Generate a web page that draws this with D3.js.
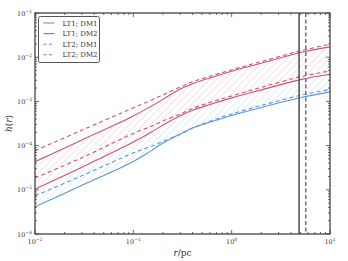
<!DOCTYPE html>
<html>
<head>
<meta charset="utf-8">
<script src="https://d3js.org/d3.v7.min.js"></script>
<style>
  body { margin: 0; background: #fff; }
  text { font-family: "DejaVu Serif", "Liberation Serif", serif; fill: #333; }
</style>
</head>
<body>
<div id="chart"></div>
<script>
var svgWidth = 348;
var svgHeight = 261;

var margin = { top: 13, right: 18, bottom: 27, left: 35 };
var width = svgWidth - margin.left - margin.right;
var height = svgHeight - margin.top - margin.bottom;

// radii (pc) where the curves were read
var radius = [0.01, 0.03, 0.1, 0.15, 0.2, 0.3, 0.4, 0.6, 1, 2, 5, 10];

// LT1 (solid) and LT2 (dashed), two DM2 bounds and one DM1 curve each
var lt1Dm2Upper = [4.33e-5, 1.34e-4, 4.68e-4, 7.69e-4, 1.11e-3, 1.90e-3, 2.52e-3, 3.40e-3, 4.81e-3, 7.31e-3, 1.28e-2, 1.71e-2];
var lt1Dm2Lower = [1.04e-5, 3.24e-5, 1.20e-4, 1.97e-4, 2.92e-4, 4.75e-4, 6.30e-4, 8.50e-4, 1.20e-3, 1.82e-3, 3.11e-3, 4.11e-3];
var lt1Dm1 = [4.11e-6, 1.26e-5, 4.38e-5, 7.50e-5, 1.14e-4, 1.84e-4, 2.50e-4, 3.38e-4, 4.81e-4, 7.31e-4, 1.21e-3, 1.64e-3];
var lt2Dm2Upper = [7.69e-5, 2.23e-4, 7.16e-4, 1.05e-3, 1.41e-3, 2.11e-3, 2.77e-3, 3.70e-3, 5.20e-3, 7.98e-3, 1.39e-2, 1.97e-2];
var lt2Dm2Lower = [1.85e-5, 5.33e-5, 1.89e-4, 2.70e-4, 3.61e-4, 5.20e-4, 6.93e-4, 9.48e-4, 1.33e-3, 2.08e-3, 3.61e-3, 4.89e-3];
var lt2Dm1 = [7.31e-6, 2.08e-5, 6.85e-5, 9.48e-5, 1.26e-4, 1.80e-4, 2.50e-4, 3.55e-4, 5.20e-4, 8.11e-4, 1.37e-3, 1.87e-3];

// vertical markers (pc)
var markerSolid = 4.85;
var markerDashed = 5.67;

var xTicks = [0.01, 0.1, 1, 10];
var xTickExp = ["\u22122", "\u22121", "0", "1"];
var yTicks = [1e-6, 1e-5, 1e-4, 1e-3, 1e-2, 1e-1];
var yTickExp = ["\u22126", "\u22125", "\u22124", "\u22123", "\u22122", "\u22121"];

var legendLabels = ["LT1; DM1", "LT1; DM2", "LT2; DM1", "LT2; DM2"];
var legendColors = ["blue", "red", "blue", "red"];
var legendDashed = [false, false, true, true];

var colors = { blue: "#5b97d6", red: "#c9566c" };

var svg = d3.select("#chart").append("svg")
  .attr("width", svgWidth)
  .attr("height", svgHeight);

var defs = svg.append("defs");
function hatch(id, color) {
  var p = defs.append("pattern")
    .attr("id", id)
    .attr("patternUnits", "userSpaceOnUse")
    .attr("width", 5).attr("height", 5)
    .attr("patternTransform", "rotate(45)");
  p.append("line")
    .attr("x1", 0).attr("y1", 0).attr("x2", 0).attr("y2", 5)
    .attr("stroke", color).attr("stroke-width", 0.8);
}
hatch("hatchRed", "#eeb3c0");
hatch("hatchBlue", "#b5d2ee");

defs.append("clipPath").attr("id", "plotClip")
  .append("rect").attr("width", width).attr("height", height);

var chartGroup = svg.append("g")
  .attr("transform", `translate(${margin.left}, ${margin.top})`);

var xScale = d3.scaleLog().domain([0.01, 10]).range([0, width]);
var yScale = d3.scaleLog().domain([1e-6, 1e-1]).range([height, 0]);

var plot = chartGroup.append("g").attr("clip-path", "url(#plotClip)");

var idx = d3.range(radius.length);
var smooth = d3.curveCatmullRom.alpha(0.5);

function band(upper, lower) {
  return d3.area()
    .x(i => xScale(radius[i]))
    .y0(i => yScale(lower[i]))
    .y1(i => yScale(upper[i]))
    .curve(smooth);
}

plot.append("path").datum(idx)
  .attr("d", band(lt1Dm2Lower, lt1Dm1))
  .attr("fill", "url(#hatchBlue)");
plot.append("path").datum(idx)
  .attr("d", band(lt1Dm2Upper, lt1Dm2Lower))
  .attr("fill", "url(#hatchRed)");

function curve(values) {
  return d3.line()
    .x(i => xScale(radius[i]))
    .y(i => yScale(values[i]))
    .curve(smooth);
}

var series = [
  { values: lt2Dm1, color: colors.blue, dashed: true },
  { values: lt2Dm2Lower, color: colors.red, dashed: true },
  { values: lt2Dm2Upper, color: colors.red, dashed: true },
  { values: lt1Dm1, color: colors.blue, dashed: false },
  { values: lt1Dm2Lower, color: colors.red, dashed: false },
  { values: lt1Dm2Upper, color: colors.red, dashed: false }
];

series.forEach(function(s) {
  plot.append("path").datum(idx)
    .attr("d", curve(s.values))
    .attr("fill", "none")
    .attr("stroke", s.color)
    .attr("stroke-width", 1.1)
    .attr("stroke-dasharray", s.dashed ? "4,3" : null);
});

// vertical markers
plot.append("line")
  .attr("x1", xScale(markerSolid)).attr("x2", xScale(markerSolid))
  .attr("y1", 0).attr("y2", height)
  .attr("stroke", "#555").attr("stroke-width", 1.6);
plot.append("line")
  .attr("x1", xScale(markerDashed)).attr("x2", xScale(markerDashed))
  .attr("y1", 0).attr("y2", height)
  .attr("stroke", "#777").attr("stroke-width", 1.6)
  .attr("stroke-dasharray", "4,2.5");

// ticks on all four sides, pointing inward
var minorX = [];
[0.01, 0.1, 1].forEach(d => { for (var k = 2; k <= 9; k++) minorX.push(d * k); });
var minorY = [];
yTicks.slice(0, -1).forEach(d => { for (var k = 2; k <= 9; k++) minorY.push(d * k); });

var tickG = chartGroup.append("g").attr("stroke", "#444").attr("stroke-width", 0.8);
function xTick(v, len) {
  var x = xScale(v);
  tickG.append("line").attr("x1", x).attr("x2", x).attr("y1", height).attr("y2", height - len);
  tickG.append("line").attr("x1", x).attr("x2", x).attr("y1", 0).attr("y2", len);
}
function yTick(v, len) {
  var y = yScale(v);
  tickG.append("line").attr("x1", 0).attr("x2", len).attr("y1", y).attr("y2", y);
  tickG.append("line").attr("x1", width).attr("x2", width - len).attr("y1", y).attr("y2", y);
}
xTicks.forEach(v => xTick(v, 4));
minorX.forEach(v => xTick(v, 2));
yTicks.forEach(v => yTick(v, 4));
minorY.forEach(v => yTick(v, 2));

chartGroup.append("rect")
  .attr("width", width).attr("height", height)
  .attr("fill", "none").attr("stroke", "#444").attr("stroke-width", 1.3);

// tick labels
xTicks.forEach(function(v, i) {
  var t = chartGroup.append("text")
    .attr("x", xScale(v)).attr("y", height + 10)
    .attr("text-anchor", "middle").attr("font-size", 6.5);
  t.append("tspan").text("10");
  t.append("tspan").attr("dy", -3).attr("font-size", 4.5).text(xTickExp[i]);
});
yTicks.forEach(function(v, i) {
  var t = chartGroup.append("text")
    .attr("x", -3).attr("y", yScale(v) + 2.5)
    .attr("text-anchor", "end").attr("font-size", 6.5);
  t.append("tspan").text("10");
  t.append("tspan").attr("dy", -3).attr("font-size", 4.5).text(yTickExp[i]);
});

// axis labels
var xl = chartGroup.append("text")
  .attr("x", width / 2).attr("y", height + 22)
  .attr("text-anchor", "middle").attr("font-size", 9);
xl.append("tspan").attr("font-style", "italic").text("r");
xl.append("tspan").text("/pc");

var yl = chartGroup.append("text")
  .attr("transform", `translate(-23, ${height / 2}) rotate(-90)`)
  .attr("text-anchor", "middle").attr("font-size", 9);
yl.append("tspan").attr("font-style", "italic").text("h");
yl.append("tspan").text("(");
yl.append("tspan").attr("font-style", "italic").text("r");
yl.append("tspan").text(")");

// legend
var legend = chartGroup.append("g").attr("transform", "translate(3.5, 3.5)");
legend.append("rect")
  .attr("width", 61).attr("height", 46).attr("rx", 2)
  .attr("fill", "#fff").attr("stroke", "#444").attr("stroke-width", 0.9);
legendLabels.forEach(function(label, i) {
  var y = 6.5 + i * 10.6;
  legend.append("line")
    .attr("x1", 5).attr("x2", 16).attr("y1", y).attr("y2", y)
    .attr("stroke", colors[legendColors[i]]).attr("stroke-width", 1.1)
    .attr("stroke-dasharray", legendDashed[i] ? "3,2.5" : null);
  legend.append("text")
    .attr("x", 24).attr("y", y + 2.5)
    .attr("font-size", 7)
    .text(label);
});
</script>
</body>
</html>
